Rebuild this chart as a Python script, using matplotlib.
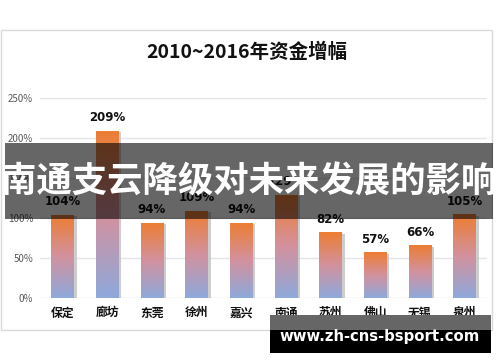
import numpy as np
import matplotlib
matplotlib.use("Agg")
import matplotlib.pyplot as plt
from matplotlib.patches import Rectangle
from matplotlib.colors import LinearSegmentedColormap
import matplotlib.transforms as mtransforms

plt.rcParams['font.family'] = ['Noto Sans CJK SC', 'DejaVu Sans']

cities = ["保定", "廊坊", "东莞", "徐州", "嘉兴", "南通", "苏州", "佛山", "无锡", "泉州"]
growth = [104, 209, 94, 109, 94, 129, 82, 57, 66, 105]
labels = ["104%", "209%", "94%", "109%", "94%", "129%", "82%", "57%", "66%", "105%"]
yticks = [0, 50, 100, 150, 200, 250]
title = "2010~2016年资金增幅"
banner = "南通支云降级对未来发展的影响"
watermark = "www.zh-cns-bsport.com"

W, H = 500, 362
fig = plt.figure(figsize=(W / 100, H / 100), dpi=100)
fig.patch.set_facecolor("white")

# chart border
ov_bg = fig.add_axes([0, 0, 1, 1], zorder=0)
ov_bg.set_xlim(0, W); ov_bg.set_ylim(H, 0); ov_bg.axis("off")
ov_bg.add_patch(Rectangle((0.5, 30), 491, 300, facecolor="white", edgecolor="#D9D9D9", lw=1))
ov_bg.text(247, 52, title, ha="center", va="center", fontsize=14, fontweight="bold", color="#111111")

ax = fig.add_axes([40 / W, (H - 298) / H, 447 / W, 200 / H], zorder=1)
ax.patch.set_alpha(0)
x = np.arange(len(cities))
ax.set_xlim(-0.5, len(cities) - 0.5)
ax.set_ylim(0, 250)
ax.set_yticks(yticks)
ax.set_yticklabels([f"{v}%" for v in yticks], color="#595959", fontsize=7)
ax.set_xticks(x)
ax.set_xticklabels(cities, fontsize=8.5, fontweight="bold", color="#111111")
ax.tick_params(length=0)
ax.tick_params(axis="x", pad=6)
ax.tick_params(axis="y", pad=5)
for s in ax.spines.values():
    s.set_visible(False)
ax.grid(axis="y", color="#E3E5EA", lw=1)
ax.set_axisbelow(True)

cmap = LinearSegmentedColormap.from_list("g", ["#8EA9DB", "#D3919E", "#ED7D31"])
grad = np.linspace(0, 1, 256).reshape(-1, 1)
bw = 0.5
shadow_tr = mtransforms.offset_copy(ax.transData, fig=fig, x=3, y=-1.5, units="dots")
for xi, v, lab in zip(x, growth, labels):
    ax.add_patch(Rectangle((xi - bw / 2, 0), bw, v, facecolor="#C8C8C8", edgecolor="none",
                           transform=shadow_tr, zorder=2, alpha=0.9))
    rect = Rectangle((xi - bw / 2, 0), bw, v, facecolor="none", edgecolor="none", zorder=3)
    ax.add_patch(rect)
    im = ax.imshow(grad, extent=[xi - bw / 2, xi + bw / 2, 0, v], origin="lower",
                   cmap=cmap, aspect="auto", zorder=3, interpolation="bilinear")
    im.set_clip_path(rect)
    ax.text(xi, v + 8, lab, ha="center", va="bottom", fontsize=8.5, fontweight="bold",
            color="#111111", family=["DejaVu Sans"])
ax.set_xlim(-0.5, len(cities) - 0.5)
ax.set_ylim(0, 250)

# overlays
ov = fig.add_axes([0, 0, 1, 1], zorder=5)
ov.set_xlim(0, W); ov.set_ylim(H, 0); ov.axis("off"); ov.patch.set_alpha(0)
ov.add_patch(Rectangle((5, 143), 488, 76, facecolor="black", alpha=0.6, edgecolor="none"))
ov.text(249, 182, banner, ha="center", va="center", fontsize=25.5, fontweight="bold", color="white")
ov.add_patch(Rectangle((270, 315), 221, 15, facecolor="#666666", edgecolor="none"))
ov.add_patch(Rectangle((270, 330), 221, 23, facecolor="black", edgecolor="none"))
ov.text(380, 336, watermark, ha="center", va="center", fontsize=10.7, fontweight="bold", color="white",
        family=["DejaVu Sans"])

fig.savefig("out.png", dpi=100)
